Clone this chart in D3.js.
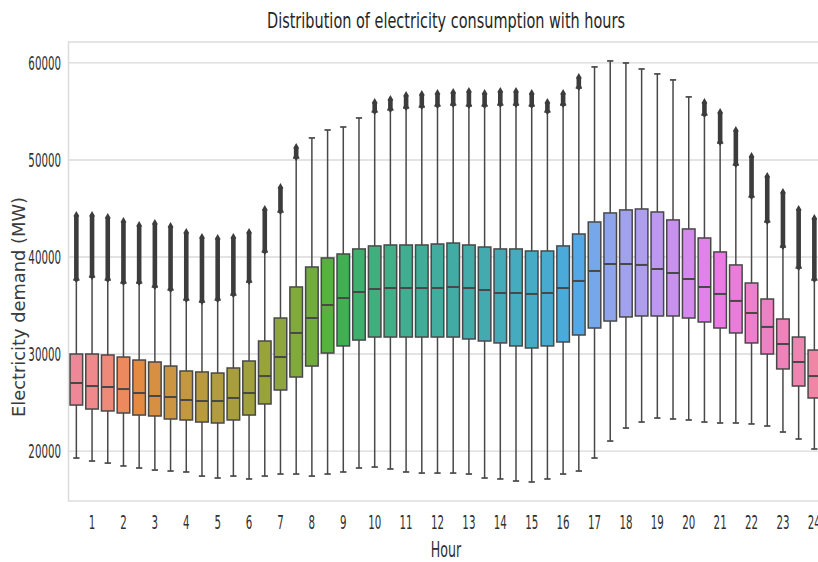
<!DOCTYPE html>
<html><head><meta charset="utf-8">
<script src="https://cdn.jsdelivr.net/npm/d3@7"></script>
<style>body{margin:0;background:#fff} svg{display:block}</style>
</head><body><svg id="chart" width="818" height="562"></svg>
<script>
// ---- data (MW), 48 half-hour slots ----
const slots = ["0.5","1","1.5","2","2.5","3","3.5","4","4.5","5","5.5","6","6.5","7","7.5","8","8.5","9","9.5","10","10.5","11","11.5","12","12.5","13","13.5","14","14.5","15","15.5","16","16.5","17","17.5","18","18.5","19","19.5","20","20.5","21","21.5","22","22.5","23","23.5","24"];
const hourTicks = ["1","2","3","4","5","6","7","8","9","10","11","12","13","14","15","16","17","18","19","20","21","22","23","24"];
const yTicks = [20000, 30000, 40000, 50000, 60000];
const q1 = [24740,24330,24130,23920,23710,23610,23300,23200,22990,22890,23200,23710,24850,26290,27630,28760,30100,30830,31440,31750,31750,31750,31750,31750,31750,31550,31340,31140,30830,30620,30830,31240,31960,32680,33400,33820,33920,33920,33920,33710,33300,32680,32170,31140,30000,28460,26700,25470];
const median = [27010,26700,26600,26390,25980,25670,25570,25260,25160,25160,25470,25980,27730,29690,32170,33710,35050,35770,36390,36700,36800,36800,36800,36800,36910,36800,36600,36290,36290,36190,36290,36800,37530,38560,39280,39280,39180,38760,38350,37730,36910,36190,35470,34230,32790,31030,29180,27730];
const q3 = [30000,30000,29900,29690,29380,29180,28760,28250,28150,28040,28560,29280,31340,33710,36910,38970,39900,40310,40830,41140,41240,41240,41240,41340,41440,41240,41030,40830,40830,40620,40620,41140,42370,43610,44540,44850,44950,44640,43820,42890,41960,40520,39180,37320,35670,33610,31750,30410];
const whiskerLow = [19280,18970,18760,18460,18250,18040,17940,17840,17420,17220,17420,17120,17420,17630,17630,17420,17630,17840,18250,18350,18150,17840,17730,17730,17730,17630,17220,17120,16910,16810,17120,17630,17940,19280,21030,22370,22990,23400,23300,23200,22990,22890,22890,22790,22580,21960,21240,20210];
const whiskerHigh = [37630,37940,37630,37320,37320,36910,36600,35570,35360,35570,36080,37420,40520,44640,50210,52270,53090,53400,54330,54950,55160,55360,55460,55570,55670,55570,55570,55670,55670,55570,54950,55670,57420,59590,60210,60000,59380,58870,58250,56500,54640,51750,49490,46190,43610,41030,38870,37630];
const outlierMax = [44330,44330,44120,43710,43300,43510,43200,42580,42060,41960,42060,42580,44950,47220,51340,null,null,null,null,55980,56290,56700,56810,56910,57010,57110,56910,57110,57110,56910,55980,56910,58560,null,null,null,null,null,null,null,55980,54950,53090,50410,48350,46700,44950,44020];
const yMin = 14850, yMax = 62160;

// ---- husl palette (as seaborn) ----
const M = [[3.240969941904521,-1.537383177570093,-0.498610760293],
           [-0.96924363628087,1.87596750150772,0.041555057407175],
           [0.055630079696993,-0.20397695888897,1.056971514242878]];
const refU = 0.19783000664283, refV = 0.46831999493879, kappa = 903.2962962, eps = 0.0088564516;
function bounds(L){
  const out=[]; const s1=Math.pow(L+16,3)/1560896; const s2 = s1>eps? s1 : L/kappa;
  for(let c=0;c<3;c++){ const [m1,m2,m3]=M[c];
    for(let t=0;t<2;t++){
      const top1=(284517*m1-94839*m3)*s2;
      const top2=(838422*m3+769860*m2+731718*m1)*L*s2-769860*t*L;
      const bot=(632260*m3-126452*m2)*s2+126452*t;
      out.push([top1/bot, top2/bot]);
    }}
  return out;
}
function maxChroma(L,H){
  const hr=H/360*Math.PI*2; let min=Infinity;
  for(const [sl,ic] of bounds(L)){ const len=ic/(Math.sin(hr)-sl*Math.cos(hr)); if(len>=0) min=Math.min(min,len);}
  return min;
}
function husl(H,S,L){
  const C = maxChroma(L,H)/100*S;
  const hr=H/180*Math.PI; const U=Math.cos(hr)*C, V=Math.sin(hr)*C;
  const vu=U/(13*L)+refU, vv=V/(13*L)+refV;
  const Y = L<=8 ? L/kappa : Math.pow((L+16)/116,3);
  const X = 0-(9*Y*vu)/((vu-4)*vv-vu*vv);
  const Z = (9*Y-15*vv*Y-vv*X)/(3*vv);
  const f=c=> c<=0.0031308 ? 12.92*c : 1.055*Math.pow(c,1/2.4)-0.055;
  const rgb = M.map(r=> Math.max(0,Math.min(1,f(r[0]*X+r[1]*Y+r[2]*Z))));
  return d3.rgb(rgb[0]*255,rgb[1]*255,rgb[2]*255);
}
const n = slots.length;
const colors = slots.map((s,i)=>{
  let h = (i/n + 0.01) % 1;
  const c = d3.hsl(husl(h*359, 0.9*99, 0.68*99));
  c.s *= 0.85;
  return c.formatHex();
});

// ---- chart ----
const svg = d3.select('#chart');
const pLeft = 68.5, pRight = 822.2, pTop = 42, pBottom = 501;
const x = d3.scaleBand().domain(slots).range([pLeft, pRight]).padding(0);
const y = d3.scaleLinear().domain([yMin, yMax]).range([pBottom, pTop]);
const bw = x.bandwidth()*0.8, cw = bw*0.5;
const lineCol = '#484848', textCol = '#303030';

function condense(sel, f){
  sel.each(function(){ const l=this.getComputedTextLength();
    d3.select(this).attr('textLength', l*f).attr('lengthAdjust','spacingAndGlyphs'); });
}

// grid
svg.append('g').selectAll('line').data(yTicks).join('line')
  .attr('x1', pLeft).attr('x2', pRight).attr('y1', d=>y(d)).attr('y2', d=>y(d))
  .attr('stroke', '#dadada').attr('stroke-width', 1.3);
// frame
svg.append('rect').attr('x', pLeft).attr('y', pTop).attr('width', pRight-pLeft).attr('height', pBottom-pTop)
  .attr('fill','none').attr('stroke','#dcdcdc').attr('stroke-width',1.5);

// boxes
const idx = d3.range(n);
const g = svg.append('g');
const bx = g.selectAll('g.box').data(idx).join('g').attr('class','box')
  .attr('transform', i=>`translate(${x(slots[i])+x.bandwidth()/2},0)`);
// whiskers
bx.append('line').attr('x1',0).attr('x2',0).attr('y1',i=>y(q1[i])).attr('y2',i=>y(whiskerLow[i]))
  .attr('stroke',lineCol).attr('stroke-width',1.5);
bx.append('line').attr('x1',0).attr('x2',0).attr('y1',i=>y(q3[i])).attr('y2',i=>y(whiskerHigh[i]))
  .attr('stroke',lineCol).attr('stroke-width',1.5);
bx.append('line').attr('x1',-cw/2).attr('x2',cw/2).attr('y1',i=>y(whiskerLow[i])).attr('y2',i=>y(whiskerLow[i]))
  .attr('stroke',lineCol).attr('stroke-width',1.7);
bx.append('line').attr('x1',-cw/2).attr('x2',cw/2).attr('y1',i=>y(whiskerHigh[i])).attr('y2',i=>y(whiskerHigh[i]))
  .attr('stroke',lineCol).attr('stroke-width',1.7);
// box
bx.append('rect').attr('x',-bw/2).attr('width',bw).attr('y',i=>y(q3[i])).attr('height',i=>y(q1[i])-y(q3[i]))
  .attr('fill',i=>colors[i]).attr('stroke',lineCol).attr('stroke-width',1.5);
bx.append('line').attr('x1',-bw/2).attr('x2',bw/2).attr('y1',i=>y(median[i])).attr('y2',i=>y(median[i]))
  .attr('stroke',lineCol).attr('stroke-width',2);
// outliers (dense column of diamond markers)
const ob = bx.filter(i=>outlierMax[i]!=null);
ob.append('path').attr('fill','#3c3c3c').attr('d', i=>{
  const t=y(outlierMax[i]), b=y(whiskerHigh[i]);
  return `M0,${t-4}L2.9,${t+1}L2.3,${t+2}L2.3,${b-2}L2.9,${b-1}L0,${b+3}L-2.9,${b-1}L-2.3,${b-2}L-2.3,${t+2}L-2.9,${t+1}Z`;
});

// y tick labels
const yl = svg.append('g').selectAll('text').data(yTicks).join('text')
  .attr('x', 61).attr('y', d=>y(d)).attr('dy','0.36em').attr('text-anchor','end')
  .attr('font-family','DejaVu Sans').attr('font-size',19).attr('fill',textCol)
  .text(d=>String(d));
condense(yl, 0.54);
// x tick labels at odd slots
const xl = svg.append('g').selectAll('text').data(hourTicks).join('text')
  .attr('x', d=>x(d)+x.bandwidth()/2).attr('y', 529).attr('text-anchor','middle')
  .attr('font-family','DejaVu Sans').attr('font-size',19).attr('fill',textCol)
  .text(d=>d);
condense(xl, 0.54);
// axis titles
const xt = svg.append('text').attr('x', 446).attr('y', 557).attr('text-anchor','middle')
  .attr('font-family','DejaVu Sans').attr('font-size',21).attr('fill',textCol).text('Hour');
condense(xt, 0.6);
svg.append('text').attr('transform','translate(25,307) rotate(-90)').attr('text-anchor','middle')
  .attr('font-family','DejaVu Sans').attr('font-size',18).attr('fill','#3a3a3a')
  .attr('textLength',220).attr('lengthAdjust','spacingAndGlyphs')
  .text('Electricity demand (MW)');
const tt = svg.append('text').attr('x', 446).attr('y', 28).attr('text-anchor','middle')
  .attr('font-family','DejaVu Sans').attr('font-size',21).attr('fill','#262626')
  .text('Distribution of electricity consumption with hours');
tt.attr('textLength',358).attr('lengthAdjust','spacingAndGlyphs');
</script>
</body></html>
